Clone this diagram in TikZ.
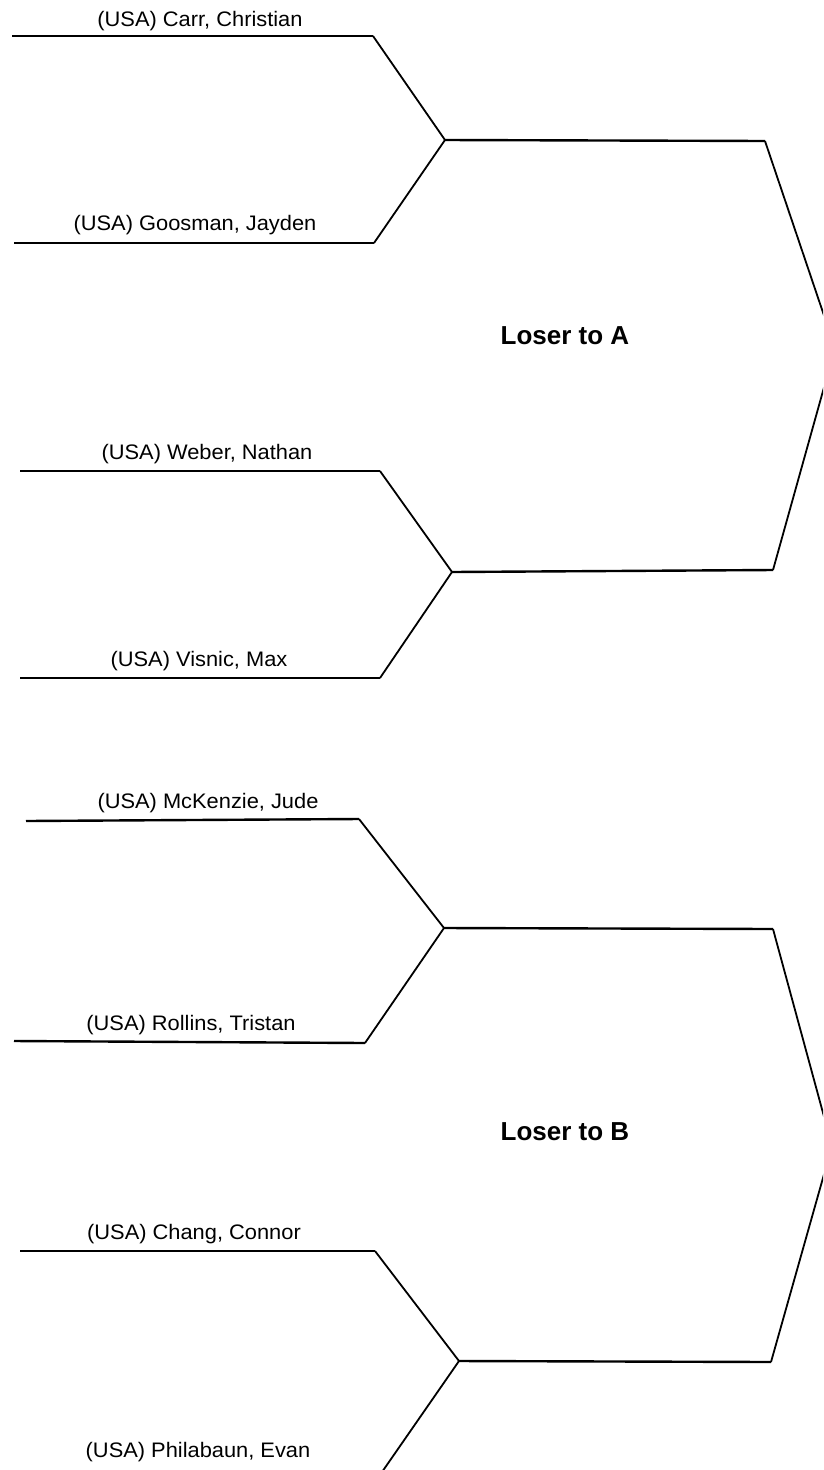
\documentclass[tikz,border=0pt]{standalone}
\usepackage{fontspec}
\setmainfont{Liberation Sans}

\begin{document}
\begin{tikzpicture}[x=1pt, y=-1pt,
    seedline/.style={line width=2.4pt},
    bracketline/.style={line width=1.8pt},
    player/.style={anchor=base, inner sep=0pt, xscale=1.04, transform shape,
        font=\fontsize{21}{25}\selectfont},
    poolname/.style={inner sep=0pt, font=\fontsize{26}{30}\selectfont\bfseries}]
    \useasboundingbox (0,0) rectangle (823,1470);
    \clip (0,0) rectangle (823,1470);

    % Define coordinates for pool A
    \coordinate (CarrLeft) at (12,36);
    \coordinate (CarrRight) at (373,36);
    \coordinate (GoosmanLeft) at (14,243);
    \coordinate (GoosmanRight) at (374,243);
    \coordinate (WeberLeft) at (20,471);
    \coordinate (WeberRight) at (380,471);
    \coordinate (VisnicLeft) at (20,678);
    \coordinate (VisnicRight) at (380,678);
    \coordinate (JoinA1) at (445,140);
    \coordinate (JoinA2) at (452,572);
    \coordinate (EndA1) at (765,141);
    \coordinate (EndA2) at (773,570);
    \coordinate (ApexA) at (835,348);

    % Define coordinates for pool B
    \coordinate (McKenzieLeft) at (26,821);
    \coordinate (McKenzieRight) at (359,819);
    \coordinate (RollinsLeft) at (14,1041);
    \coordinate (RollinsRight) at (365,1043);
    \coordinate (ChangLeft) at (20,1251);
    \coordinate (ChangRight) at (375,1251);
    \coordinate (PhilabaunEnd) at (382,1472);
    \coordinate (JoinB1) at (444,928);
    \coordinate (JoinB2) at (459,1361);
    \coordinate (EndB1) at (773,929);
    \coordinate (EndB2) at (771,1362);
    \coordinate (ApexB) at (832,1146);

    % Player names
    \node[player] (carr) at (200,26) {(USA) Carr, Christian};
    \node[player] (goosman) at (195,230) {(USA) Goosman, Jayden};
    \node[player] (weber) at (207,459) {(USA) Weber, Nathan};
    \node[player] (visnic) at (199,666) {(USA) Visnic, Max};
    \node[player] (mckenzie) at (208,808) {(USA) McKenzie, Jude};
    \node[player] (rollins) at (191,1030) {(USA) Rollins, Tristan};
    \node[player] (chang) at (194,1239) {(USA) Chang, Connor};
    \node[player] (philabaun) at (198,1457) {(USA) Philabaun, Evan};

    % Pool titles
    \node[poolname] (poolA) at (565,336) {Loser to A};
    \node[poolname] (poolB) at (565,1132) {Loser to B};

    % Seed lines
    \draw[seedline] (CarrLeft) -- (CarrRight);
    \draw[seedline] (GoosmanLeft) -- (GoosmanRight);
    \draw[seedline] (WeberLeft) -- (WeberRight);
    \draw[seedline] (VisnicLeft) -- (VisnicRight);
    \draw[seedline] (McKenzieLeft) -- (McKenzieRight);
    \draw[seedline] (RollinsLeft) -- (RollinsRight);
    \draw[seedline] (ChangLeft) -- (ChangRight);

    % First round joins
    \draw[bracketline] (CarrRight) -- (JoinA1) -- (GoosmanRight);
    \draw[bracketline] (WeberRight) -- (JoinA2) -- (VisnicRight);
    \draw[bracketline] (McKenzieRight) -- (JoinB1) -- (RollinsRight);
    \draw[bracketline] (ChangRight) -- (JoinB2) -- (PhilabaunEnd);

    % Second round lines
    \draw[seedline] (JoinA1) -- (EndA1);
    \draw[seedline] (JoinA2) -- (EndA2);
    \draw[seedline] (JoinB1) -- (EndB1);
    \draw[seedline] (JoinB2) -- (EndB2);

    % Pool finals (run off the page)
    \draw[bracketline] (EndA1) -- (ApexA) -- (EndA2);
    \draw[bracketline] (EndB1) -- (ApexB) -- (EndB2);

\end{tikzpicture}
\end{document}
